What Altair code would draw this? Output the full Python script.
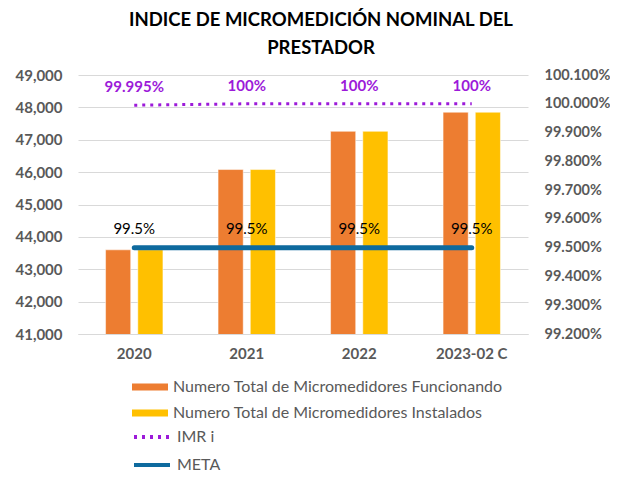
import altair as alt
import pandas as pd

# ---- data ----
years = ["2020", "2021", "2022", "2023-02 C"]
funcionando = [43600, 46080, 47260, 47850]
instalados = [43602, 46080, 47260, 47850]
imr = [0.99995, 1.0, 1.0, 1.0]
imr_labels = ["99.995%", "100%", "100%", "100%"]
meta = [0.995, 0.995, 0.995, 0.995]
meta_labels = ["99.5%", "99.5%", "99.5%", "99.5%"]
bar_series = ["Numero Total de Micromedidores Funcionando",
              "Numero Total de Micromedidores Instalados"]
line_series = ["IMR i", "META"]
left_ticks = [41000, 42000, 43000, 44000, 45000, 46000, 47000, 48000, 49000]
right_ticks = [0.992, 0.993, 0.994, 0.995, 0.996, 0.997, 0.998, 0.999, 1.000, 1.001]

bars_df = pd.DataFrame({
    "year": years * 2,
    "serie": [bar_series[0]] * 4 + [bar_series[1]] * 4,
    "value": funcionando + instalados,
})
lines_df = pd.DataFrame({
    "year": years * 2,
    "linea": [line_series[0]] * 4 + [line_series[1]] * 4,
    "pct": imr + meta,
    "etiqueta": imr_labels + meta_labels,
})

FONT = "Lato"
GRAY = "#595959"
ORANGE = "#ED7D31"
YELLOW = "#FFC000"
PURPLE = "#9C1AD9"
BLUE = "#0E6A9E"

x_enc = alt.X("year:N", sort=years, title=None,
              scale=alt.Scale(paddingInner=0.49, paddingOuter=0.245),
              axis=alt.Axis(labelFont=FONT, labelFontSize=15, labelFontWeight="bold",
                            labelColor=GRAY, labelPadding=12, ticks=False,
                            domainColor="#D9D9D9", labelAngle=0))

bars = alt.Chart(bars_df).mark_bar(stroke="white", strokeWidth=0.5, clip=True).encode(
    x=x_enc,
    xOffset=alt.XOffset("serie:N", sort=bar_series,
                        scale=alt.Scale(paddingInner=0.22, paddingOuter=0)),
    y=alt.Y("value:Q", title=None,
            scale=alt.Scale(domain=[41000, 49000], nice=False, zero=False),
            axis=alt.Axis(values=left_ticks, format=",d", labelFont=FONT,
                          labelFontSize=15, labelFontWeight="bold", labelColor=GRAY,
                          labelPadding=16, ticks=False, domain=False,
                          gridColor="#D9D9D9", gridWidth=1)),
    color=alt.Color("serie:N", sort=bar_series,
                    scale=alt.Scale(domain=bar_series, range=[ORANGE, YELLOW]),
                    legend=alt.Legend(title=None, orient="none", legendX=54, legendY=294,
                                      direction="vertical",
                                      symbolType="M-1,-0.2H1V0.2H-1Z", symbolSize=1296,
                                      symbolStrokeWidth=0, symbolOpacity=1,
                                      labelFont=FONT, labelFontSize=16, labelColor=GRAY,
                                      labelLimit=500, labelOffset=5, rowPadding=-7,
                                      padding=0)),
)

right_axis = alt.Axis(orient="right", values=right_ticks, format=".3%",
                      labelFont=FONT, labelFontSize=14.5, labelFontWeight="bold",
                      labelColor=GRAY, labelPadding=16, ticks=False,
                      domain=False, grid=False)
right_scale = alt.Scale(domain=[0.992, 1.001], nice=False, zero=False)
y_right = alt.Y("pct:Q", title=None, scale=right_scale, axis=right_axis)

line_legend = alt.Legend(title=None, orient="none", legendX=54, legendY=342,
                         direction="vertical", symbolType="stroke", symbolSize=1296,
                         symbolStrokeWidth=4,
                         labelFont=FONT, labelFontSize=16, labelColor=GRAY,
                         labelLimit=500, labelOffset=5, rowPadding=-13, padding=0)

line_color = alt.Color("linea:N", sort=line_series,
                       scale=alt.Scale(domain=line_series, range=[PURPLE, BLUE]),
                       legend=line_legend)
line_dash = alt.StrokeDash("linea:N", sort=line_series,
                           scale=alt.Scale(domain=line_series, range=[[3, 5], [1, 0]]),
                           legend=line_legend)

base_lines = alt.Chart(lines_df)
x_line = alt.X("year:N", sort=years)

imr_line = base_lines.transform_filter(alt.datum.linea == "IMR i").mark_line(
    strokeWidth=3).encode(
    x=x_line, y=y_right, color=line_color, strokeDash=line_dash)

meta_line = base_lines.transform_filter(alt.datum.linea == "META").mark_line(
    strokeCap="round", strokeWidth=5).encode(
    x=x_line, y=y_right, color=line_color, strokeDash=line_dash)

imr_text = base_lines.transform_filter(alt.datum.linea == "IMR i").mark_text(
    font=FONT, fontSize=15, fontWeight="bold", color=PURPLE, dy=-18).encode(
    x=x_line, y=y_right, text="etiqueta:N")

meta_text = base_lines.transform_filter(alt.datum.linea == "META").mark_text(
    font=FONT, fontSize=15, color="black", dy=-19).encode(
    x=x_line, y=y_right, text="etiqueta:N")

lines = alt.layer(imr_line, meta_line, imr_text, meta_text)

chart = alt.layer(bars, lines).resolve_scale(
    y="independent", color="independent", strokeDash="independent"
).resolve_legend(
    color="independent", strokeDash="independent"
).properties(
    width=450, height=259,
    autosize=alt.AutoSizeParams(type="none"),
    padding={"left": 70, "top": 67, "right": 82, "bottom": 138},
    title=alt.TitleParams(
        text=["INDICE DE MICROMEDICIÓN NOMINAL DEL", "PRESTADOR"],
        font=FONT, fontSize=18.5, fontWeight="bold", color="black",
        anchor="middle", dx=18, offset=10, lineHeight=28),
).configure_view(stroke=None)

chart.save("out.html", embed_options={"renderer": "svg", "actions": False})
